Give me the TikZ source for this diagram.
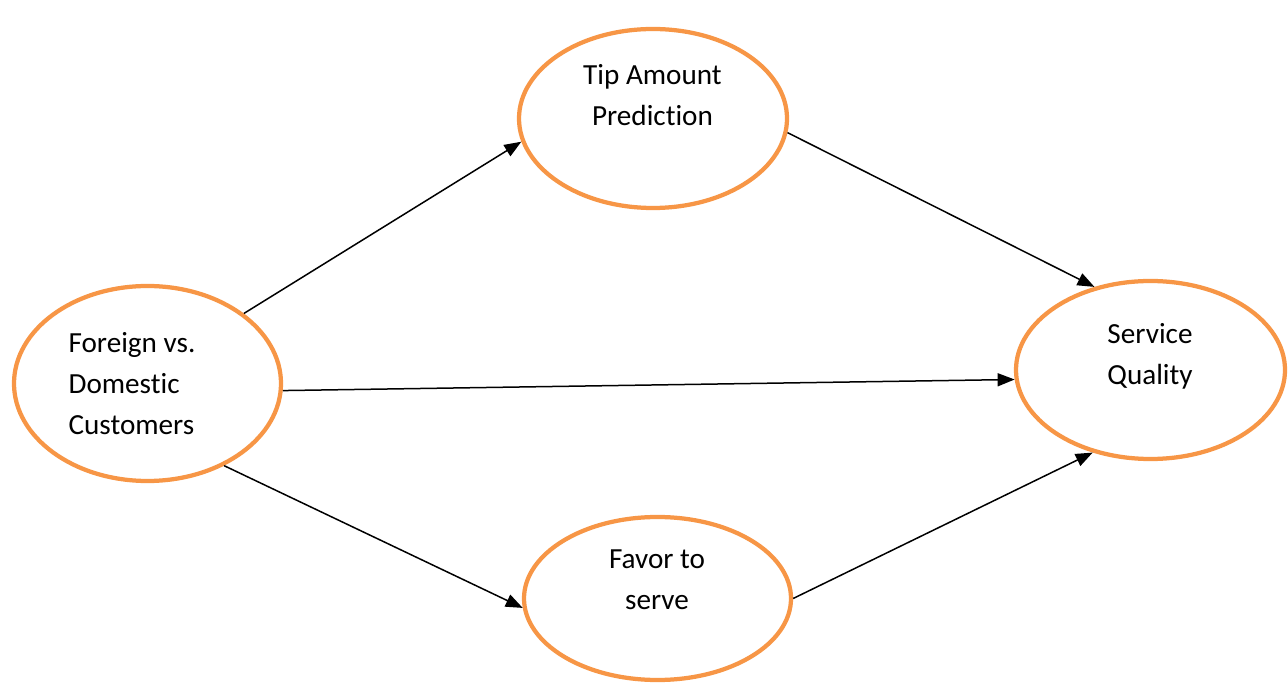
\documentclass[tikz,border=0pt]{standalone}
\usepackage{fontspec}
\setmainfont[Ligatures=NoCommon]{Carlito}
\usetikzlibrary{shapes.geometric,arrows.meta}
\definecolor{accorange}{HTML}{F79646}
\tikzset{
  oval/.style={ellipse, draw=accorange, line width=0.085cm, inner sep=0pt, fill=white},
  lbl/.style={font={\fontsize{16.6}{23.3}\selectfont}, inner sep=0pt, text=black},
  conn/.style={draw=black, line width=0.03cm, -{Triangle[length=0.34cm,width=0.26cm]}}
}
\begin{document}
\begin{tikzpicture}[x=0.02cm,y=-0.02cm]
\useasboundingbox (0,0) rectangle (1288,685);
\node[oval, minimum width=267*0.02cm, minimum height=195*0.02cm] (L) at (147.5,383.5) {};
\node[oval, minimum width=268*0.02cm, minimum height=179*0.02cm] (T) at (653,118.5) {};
\node[oval, minimum width=269*0.02cm, minimum height=178*0.02cm] (R) at (1150.5,370) {};
\node[oval, minimum width=267*0.02cm, minimum height=163*0.02cm] (B) at (657.5,598.5) {};
\node[lbl, align=left] (Lt) at (132,384) {Foreign vs.\\Domestic\\Customers};
\node[lbl, align=center] (Tt) at (652.5,95) {Tip Amount\\Prediction};
\node[lbl, align=center] (Rt) at (1150,356.5) {Service\\Quality};
\node[lbl, align=center] (Bt) at (657,579.5) {Favor to\\serve};
\draw[conn] (L.36) -- (T.190.8);
\draw[conn] (T.-6.4) -- (R.124.5);
\draw[conn] (L.-3.6) -- (R.184.6);
\draw[conn] (L.-47.5) -- (B.184);
\draw[conn] (B.-0.2) -- (R.235.8);
\end{tikzpicture}
\end{document}
